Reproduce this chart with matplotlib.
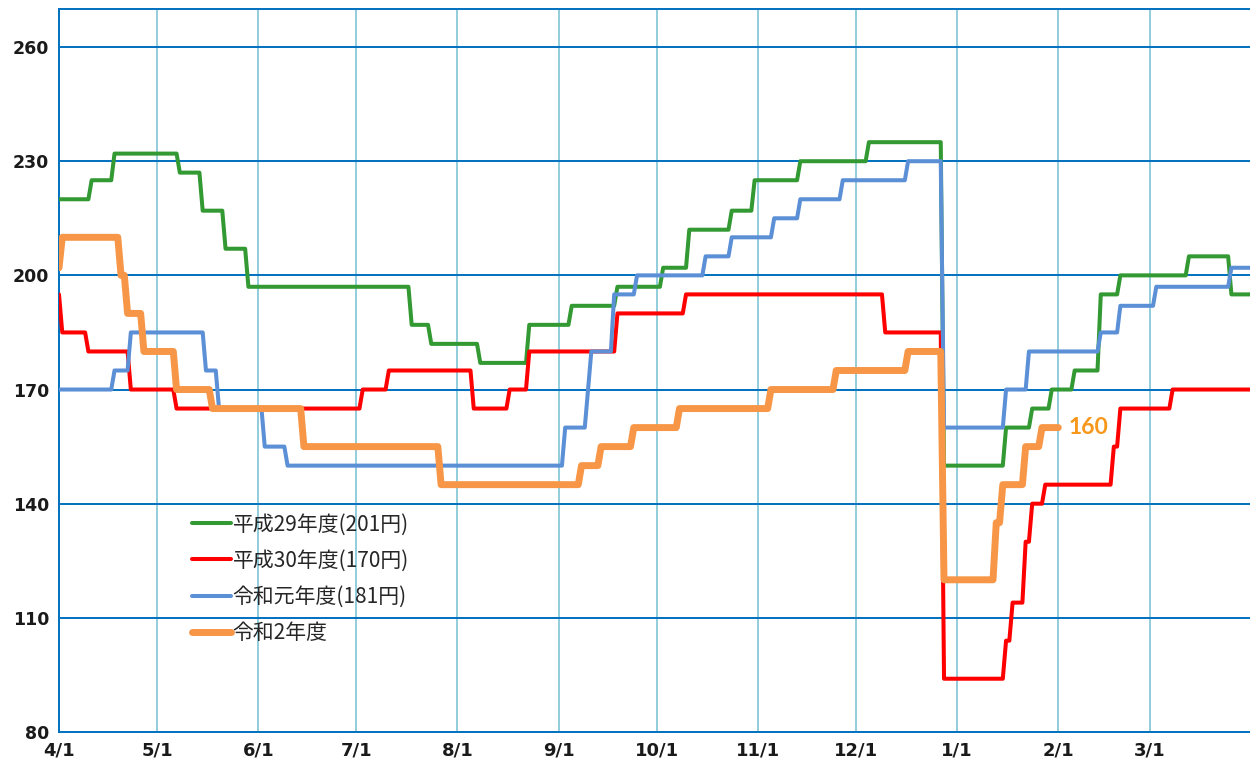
import matplotlib
matplotlib.use('Agg')
import matplotlib.pyplot as plt

# Data (day offset from 4/1, value from that day on)
##############################################

month_days = [0, 30, 61, 91, 122, 153, 183, 214, 244, 275, 306, 334]
month_labels = ['4/1', '5/1', '6/1', '7/1', '8/1', '9/1', '10/1', '11/1', '12/1', '1/1', '2/1', '3/1']
y_ticks = [80, 110, 140, 170, 200, 230, 260]

h29_days = [0, 10, 17, 37, 44, 51, 58, 108, 114, 129, 144, 157, 171, 185, 193, 206, 213, 227, 248,
            271, 290, 298, 304, 311, 319, 325, 346, 359]
h29_vals = [220, 225, 232, 227, 217, 207, 197, 187, 182, 177, 187, 192, 197, 202, 212, 217, 225, 230, 235,
            150, 160, 165, 170, 175, 195, 200, 205, 195]

h30_days = [0, 1, 9, 22, 36, 93, 101, 127, 138, 144, 171, 192, 253, 271, 290, 292, 296, 298, 302, 323, 325, 341]
h30_vals = [195, 185, 180, 170, 165, 170, 175, 165, 170, 180, 190, 195, 185, 94, 104, 114, 130, 140, 145, 155, 165, 170]

r1_days = [0, 17, 22, 45, 49, 63, 70, 155, 162, 163, 170, 177, 198, 206, 219, 227, 240, 260,
           271, 290, 297, 319, 325, 336, 359]
r1_vals = [170, 175, 185, 175, 165, 155, 150, 160, 170, 180, 195, 200, 205, 210, 215, 220, 225, 230,
           160, 170, 180, 185, 192, 197, 202]

r2_days = [0, 1, 19, 21, 26, 36, 47, 75, 117, 160, 166, 176, 190, 218, 238, 260, 271, 287, 289, 296, 301]
r2_vals = [202, 210, 200, 190, 180, 170, 165, 155, 145, 150, 155, 160, 165, 170, 175, 180, 120, 135, 145, 155, 160]

year_end = 365
r2_end = 306

labels = ['平成29年度(201円)', '平成30年度(170円)', '令和元年度(181円)', '令和2年度']
colors = ['#339933', '#FF0000', '#5B8FD6', '#F79646']


# each value holds until the day before the next change
def steps(days, vals, end):
    xs, ys = [], []
    for i, (d, v) in enumerate(zip(days, vals)):
        stop = days[i + 1] - 1 if i + 1 < len(days) else end
        xs += [d, stop]
        ys += [v, v]
    return xs, ys


fig = plt.figure(figsize=(12.5, 7.63), dpi=100)
ax = fig.add_axes([59 / 1250, 31 / 763, 1192 / 1250, 723 / 763])

series = [(h29_days, h29_vals, year_end, 2.9),
          (h30_days, h30_vals, year_end, 2.9),
          (r1_days, r1_vals, year_end, 2.9),
          (r2_days, r2_vals, r2_end, 5.0)]

for (days, vals, end, lw), lab, col in zip(series, labels, colors):
    xs, ys = steps(days, vals, end)
    ax.plot(xs, ys, color=col, lw=lw, label=lab, solid_joinstyle='round', solid_capstyle='round', zorder=3)

# last value of this year
ax.text(r2_end + 3, r2_vals[-1], str(r2_vals[-1]), color='#F7981D', fontsize=16.5,
        fontweight='bold', family='Lato', va='center', ha='left', zorder=4)

ax.set_xlim(0, year_end)
ax.set_ylim(80, 270)
ax.set_xticks(month_days)
ax.set_xticklabels(month_labels)
ax.set_yticks(y_ticks)

for d in month_days[1:]:
    ax.axvline(d, color='#92CDDC', lw=1.4, zorder=1)
for v in y_ticks[1:]:
    ax.axhline(v, color='#0070C0', lw=1.4, zorder=1)

for s in ax.spines.values():
    s.set_color('#0070C0')
    s.set_linewidth(1.4)

ax.tick_params(length=0)
ax.tick_params(axis='y', pad=7, labelsize=12.5, labelcolor='#1a1a1a')
ax.tick_params(axis='x', pad=7, labelsize=13, labelcolor='#1a1a1a')
for t in ax.get_xticklabels() + ax.get_yticklabels():
    t.set_fontweight('bold')

leg = ax.legend(loc='center left', bbox_to_anchor=(133 / 1192, 0.212), frameon=False,
                borderpad=0, borderaxespad=0, handlelength=1.85, handletextpad=0.1,
                labelspacing=0.68, prop={'family': 'Noto Sans CJK JP', 'size': 15})
for t in leg.get_texts():
    t.set_color('#262626')

fig.savefig('out.png', dpi=100)
